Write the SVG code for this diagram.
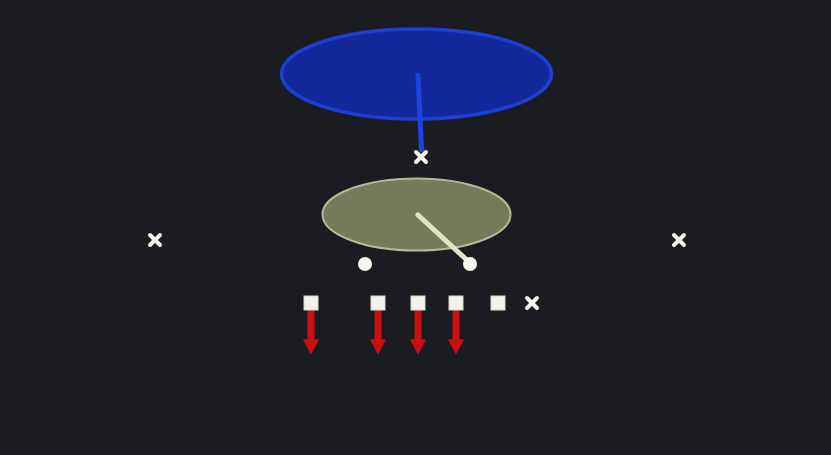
<svg xmlns="http://www.w3.org/2000/svg" width="831" height="455" viewBox="0 0 831 455">
<defs>
<style>
.x line{stroke:#f2f3e6;stroke-width:4;stroke-linecap:round}
.sq{fill:#f2f2ea;stroke:#d8d8c8;stroke-width:1}
.dot{fill:#f6f6ee}
.run{stroke:#cc1010;stroke-width:7;fill:none}
.head{fill:#cc1010;stroke:#cc1010;stroke-width:1.5;stroke-linejoin:round}
</style>
</defs>
<rect width="831" height="455" fill="#1a1c22"/>
<g id="zone-deep">
<ellipse cx="416.5" cy="74" rx="135" ry="45" fill="#12289a" stroke="#1c3fd2" stroke-width="3.5"/>
</g>
<g id="zone-short">
<ellipse cx="416.5" cy="214.5" rx="94" ry="36" fill="#737b5a" stroke="#b6ba96" stroke-width="2"/>
</g>
<g id="connectors">
<line x1="418" y1="75" x2="421.5" y2="150" stroke="#1a45e0" stroke-width="5" stroke-linecap="round"/>
<line x1="418" y1="215" x2="469" y2="262" stroke="#dfe5c2" stroke-width="5" stroke-linecap="round"/>
<line class="run" x1="311" y1="310" x2="311" y2="342"/>
<polygon class="head" points="304,340 318,340 311,353"/>
<line class="run" x1="378" y1="310" x2="378" y2="342"/>
<polygon class="head" points="371,340 385,340 378,353"/>
<line class="run" x1="418" y1="310" x2="418" y2="342"/>
<polygon class="head" points="411,340 425,340 418,353"/>
<line class="run" x1="456" y1="310" x2="456" y2="342"/>
<polygon class="head" points="449,340 463,340 456,353"/>
</g>
<g id="defender-safety" class="x"><line x1="416" y1="152" x2="426" y2="162"/><line x1="426" y1="152" x2="416" y2="162"/></g>
<g id="defender-left" class="x"><line x1="150" y1="235" x2="160" y2="245"/><line x1="160" y1="235" x2="150" y2="245"/></g>
<g id="defender-right" class="x"><line x1="674" y1="235" x2="684" y2="245"/><line x1="684" y1="235" x2="674" y2="245"/></g>
<g id="defender-end" class="x"><line x1="527" y1="298" x2="537" y2="308"/><line x1="537" y1="298" x2="527" y2="308"/></g>
<g id="back-left"><circle class="dot" cx="365" cy="264" r="7"/></g>
<g id="back-right"><circle class="dot" cx="470" cy="264" r="7"/></g>
<g id="lineman-1"><rect class="sq" x="304" y="296" width="14" height="14"/></g>
<g id="lineman-2"><rect class="sq" x="371" y="296" width="14" height="14"/></g>
<g id="lineman-3"><rect class="sq" x="411" y="296" width="14" height="14"/></g>
<g id="lineman-4"><rect class="sq" x="449" y="296" width="14" height="14"/></g>
<g id="lineman-5"><rect class="sq" x="491" y="296" width="14" height="14"/></g>
</svg>
